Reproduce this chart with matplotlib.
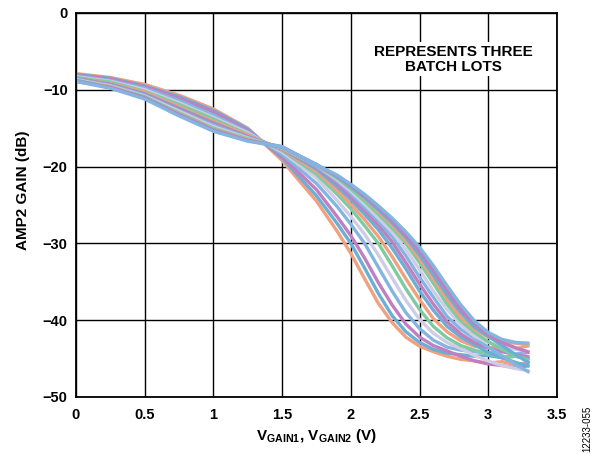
import matplotlib
matplotlib.use("Agg")
import matplotlib.pyplot as plt

plt.rcParams['font.family'] = ['Liberation Sans', 'DejaVu Sans']
plt.rcParams['font.weight'] = 'bold'
plt.rcParams['axes.labelweight'] = 'bold'
plt.rcParams['mathtext.fontset'] = 'custom'
plt.rcParams['mathtext.rm'] = 'Liberation Sans:bold'
plt.rcParams['mathtext.bf'] = 'Liberation Sans:bold'

# gain control voltage (V)
vgain = [0, 0.25, 0.5, 0.75, 1.0, 1.25, 1.5, 1.75, 1.9, 2.0, 2.1, 2.2,
         2.3, 2.4, 2.5, 2.6, 2.7, 2.8, 2.9, 3.0, 3.1, 3.2, 3.3]

# AMP2 gain (dB), one list per part
gain_runs = [
    [-7.9, -8.4, -9.3, -10.7, -12.5, -15.0, -19.2, -24.5, -28.4, -31.3, -34.6, -37.8, -40.3, -42.2, -43.4, -44.1, -44.7, -45.1, -45.3, -45.6, -45.4, -45.8, -45.5],
    [-8.0, -8.5, -9.5, -10.9, -12.7, -15.1, -18.9, -23.8, -27.4, -30.0, -33.2, -36.5, -39.4, -41.5, -42.9, -43.8, -44.3, -44.5, -44.7, -44.6, -44.9, -44.7, -45.0],
    [-8.1, -8.6, -9.6, -11.1, -12.9, -15.3, -18.7, -23.0, -26.5, -29.0, -31.9, -35.1, -38.0, -40.5, -42.2, -43.3, -44.0, -44.7, -45.3, -45.7, -45.9, -46.2, -45.9],
    [-8.2, -8.8, -9.8, -11.4, -13.3, -15.5, -18.4, -22.2, -25.2, -27.5, -30.0, -33.1, -36.2, -39.0, -41.1, -42.6, -43.5, -43.9, -44.1, -44.3, -44.0, -44.4, -44.2],
    [-8.3, -8.9, -10.0, -11.7, -13.6, -15.6, -18.1, -21.5, -24.4, -26.5, -28.8, -31.5, -34.5, -37.4, -39.9, -41.7, -42.9, -43.7, -44.6, -45.3, -45.9, -46.3, -46.6],
    [-8.4, -9.0, -10.2, -11.9, -13.8, -15.8, -17.9, -21.0, -23.6, -25.5, -27.7, -30.0, -32.9, -35.9, -38.6, -40.8, -42.3, -43.3, -43.9, -44.4, -44.8, -44.7, -45.1],
    [-8.5, -9.2, -10.3, -12.2, -14.1, -15.9, -17.8, -20.6, -23.1, -24.9, -26.9, -29.1, -31.7, -34.6, -37.3, -39.8, -41.5, -42.7, -43.4, -43.6, -43.4, -43.7, -43.3],
    [-8.5, -9.3, -10.5, -12.4, -14.3, -16.1, -17.7, -20.3, -22.6, -24.3, -26.2, -28.2, -30.6, -33.3, -36.2, -38.7, -40.8, -42.2, -43.2, -44.2, -44.9, -45.5, -46.0],
    [-8.6, -9.3, -10.6, -12.5, -14.4, -16.1, -17.7, -20.1, -22.2, -23.9, -25.7, -27.6, -29.8, -32.5, -35.3, -37.9, -40.2, -41.8, -42.9, -43.6, -44.1, -44.5, -44.8],
    [-8.6, -9.4, -10.7, -12.7, -14.6, -16.2, -17.6, -20.0, -21.9, -23.5, -25.3, -27.1, -29.1, -31.6, -34.4, -37.0, -39.5, -41.2, -42.4, -43.5, -44.6, -45.8, -46.8],
    [-8.7, -9.5, -10.8, -12.8, -14.8, -16.3, -17.6, -19.8, -21.7, -23.2, -24.9, -26.7, -28.5, -30.8, -33.4, -36.2, -38.6, -40.6, -42.1, -42.9, -43.5, -43.8, -44.1],
    [-8.8, -9.6, -10.9, -13.0, -15.0, -16.4, -17.5, -19.8, -21.5, -22.9, -24.5, -26.2, -28.0, -30.0, -32.5, -35.2, -37.9, -40.1, -41.6, -42.8, -43.8, -44.6, -45.2],
    [-8.8, -9.6, -11.0, -13.1, -15.1, -16.5, -17.5, -19.8, -21.3, -22.6, -24.1, -25.8, -27.6, -29.6, -32.0, -34.6, -37.3, -39.6, -41.2, -42.2, -42.8, -43.0, -43.2],
    [-8.8, -9.7, -11.0, -13.2, -15.2, -16.6, -17.5, -19.7, -21.3, -22.6, -24.0, -25.6, -27.3, -29.2, -31.5, -34.1, -36.7, -39.0, -40.9, -42.1, -43.3, -44.5, -45.6],
    [-8.9, -9.7, -11.1, -13.3, -15.3, -16.6, -17.4, -19.8, -21.2, -22.4, -23.8, -25.3, -27.0, -28.9, -31.0, -33.5, -36.1, -38.6, -40.5, -41.9, -42.9, -43.6, -44.2],
    [-8.9, -9.8, -11.2, -13.4, -15.4, -16.7, -17.4, -19.8, -21.1, -22.3, -23.6, -25.1, -26.7, -28.5, -30.5, -32.9, -35.5, -38.0, -40.1, -41.6, -42.5, -42.9, -43.0],
]

colors = ['#f0a17f', '#6baed6', '#c17fc0', '#84b5e0', '#cfcde6', '#7ecba1']

fig = plt.figure(figsize=(6.02, 4.54), dpi=100)
ax = fig.add_axes([0.1262, 0.1256, 0.799, 0.8458])

for i, run in enumerate(gain_runs):
    ax.plot(vgain, run, color=colors[i % len(colors)], lw=2.4,
            solid_capstyle='butt', solid_joinstyle='round')

ax.set_xlim(0, 3.5)
ax.set_ylim(-50, 0)
ax.set_xticks([0, 0.5, 1, 1.5, 2, 2.5, 3, 3.5])
ax.set_xticklabels(['0', '0.5', '1', '1.5', '2', '2.5', '3', '3.5'])
ax.set_yticks([0, -10, -20, -30, -40, -50])
ax.grid(True, color='black', lw=1.0)
ax.set_axisbelow(True)
ax.tick_params(length=0, labelsize=10.5)
ax.tick_params(axis='x', pad=8)
ax.tick_params(axis='y', pad=6)
for s in ax.spines.values():
    s.set_linewidth(1.3)

ax.set_xlabel(r'$\mathbf{V_{GAIN1}}$, $\mathbf{V_{GAIN2}}$ (V)', fontsize=11,
              fontweight='bold')
ax.xaxis.set_label_coords(0.5, -0.078)
ax.set_ylabel('AMP2 GAIN (dB)', fontsize=11, fontweight='bold')
ax.yaxis.set_label_coords(-0.095, 0.539)

ax.text(2.745, -6.0, 'REPRESENTS THREE\nBATCH LOTS', ha='center', va='center',
        fontsize=11, fontweight='bold', linespacing=1.1,
        bbox=dict(facecolor='white', edgecolor='none', pad=1.5))

fig.text(0.975, 0.055, '12233-055', rotation=90, fontsize=7, fontweight='normal',
         ha='center', va='center')

fig.savefig('out.png', dpi=100)
